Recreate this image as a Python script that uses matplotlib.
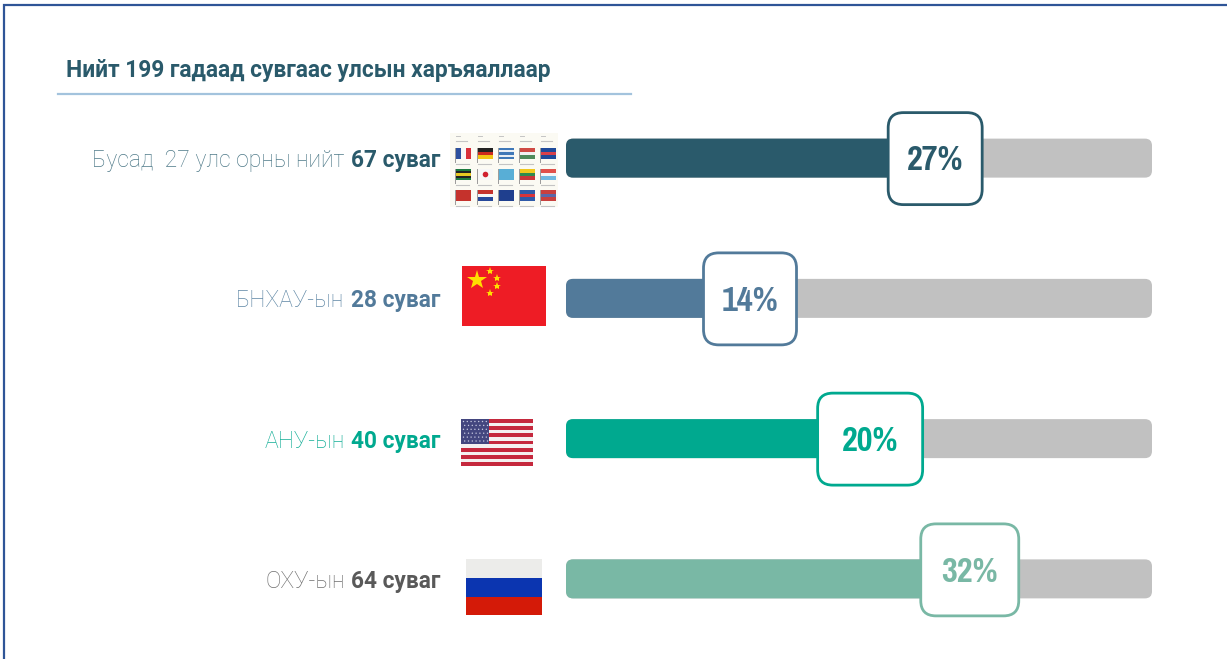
import matplotlib
matplotlib.use("Agg")
import matplotlib.pyplot as plt
from matplotlib.patches import FancyBboxPatch, Rectangle, Circle

W, H = 1227, 659

title = "Нийт 199 гадаад сувгаас улсын харъяаллаар"
light_labels = ["Бусад  27 улс орны нийт", "БНХАУ-ын", "АНУ-ын", "ОХУ-ын"]
bold_labels = ["67 суваг", "28 суваг", "40 суваг", "64 суваг"]
pct_labels = ["27%", "14%", "20%", "32%"]
# how far the coloured bar runs along the grey track, as drawn (not the same as the label)
fill_values = [63.0, 31.4, 51.9, 68.9]
track_value = 100

bar_colors = ["#2a5a6b", "#527a9a", "#00a98f", "#79b8a5"]
light_colors = ["#4f7a89", "#5f87a5", "#14ae97", "#6e6e6e"]
bold_colors = ["#2a5a6b", "#527a9a", "#00a98f", "#595959"]
box_widths = [94, 93, 105, 98]  # px
box_shift = [0.5, 0.5, 0.5, -9]  # px, last box sits higher than its bar

pct_fonts = ["Pragati Narrow", "Roboto Condensed", "Roboto"]

fig = plt.figure(figsize=(W / 100, H / 100), dpi=100, facecolor="white")

# background layer in pixels: frame, title rule and the flags
bg = fig.add_axes([0, 0, 1, 1])
bg.set_xlim(0, W)
bg.set_ylim(H, 0)
bg.axis("off")
bg.plot([4, 4, W], [H, 4.5, 4.5], color="#2f5597", lw=1.6, solid_joinstyle="miter")
bg.plot([58, 631], [94, 94], color="#a3c3dd", lw=1.6)
bg.text(66, 70, title, fontsize=16.4, fontweight="bold", family="Roboto",
        color="#2a5a6b", ha="left", va="center")


def stripes(x, y, w, h, colors, vertical=False):
    n = len(colors)
    for i, c in enumerate(colors):
        if vertical:
            bg.add_patch(Rectangle((x + i * w / n, y), w / n, h, fc=c, ec="none"))
        else:
            bg.add_patch(Rectangle((x, y + i * h / n), w, h / n, fc=c, ec="none"))


# China
stripes(462, 266, 84, 60, ["#ee1c25"])
bg.plot([477], [280], marker="*", ms=15, color="#ffde00", mew=0)
bg.plot([490, 497, 497, 490], [271, 278, 286, 293], ls="none", marker="*", ms=6, color="#ffde00", mew=0)

# USA
stripes(461, 419, 72, 47, ["#c5283d", "#f4f0f0"] * 6 + ["#c5283d"])
stripes(461, 419, 28, 25, ["#43467f"])
for r in range(6):
    for c in range(7):
        bg.add_patch(Circle((463.5 + c * 3.8 + (r % 2) * 1.2, 421.5 + r * 3.9), 0.7, fc="#c9cbe2", ec="none"))

# Russia
stripes(466, 559, 76, 18.5, ["#ececea"])
stripes(466, 577.5, 76, 19, ["#0b35b0"])
stripes(466, 596.5, 76, 18.5, ["#d41a08"])

# flag sheet for the other countries
bg.add_patch(Rectangle((450, 133), 108, 74, fc="#fbfaf3", ec="none"))
sheet = [
    [(["#2c4f9e", "#f7f7f7", "#d8303a"], True), (["#222222", "#cc2a1e", "#f2c516"], False),
     (["#3f78b8", "#e8eef5", "#3f78b8", "#e8eef5", "#3f78b8"], False), (["#cf4a44", "#f2f2f2", "#4f8a5b"], False),
     (["#1e4a9a", "#d8404a", "#1e4a9a"], False)],
    [(["#1c7a3f", "#222222", "#e6c822", "#222222", "#1c7a3f"], False), (["#f7f7f7"], False),
     (["#58aed6"], False), (["#f0c81e", "#2f8a4e", "#c8363a"], False), (["#e0504a", "#f5f5f5", "#6fb8e0"], False)],
    [(["#c5322c"], False), (["#c5322c", "#f5f5f5", "#26489a"], False), (["#1f3f8e"], False),
     (["#2f5aa8", "#d8343a", "#2f5aa8"], False), (["#c8403e", "#5a68a8", "#c8403e"], False)],
]
col_x = [456, 478, 499, 520, 541]
row_y = [148, 169, 190]
for ry, row in zip(row_y, sheet):
    for cx, (cols, vert) in zip(col_x, row):
        stripes(cx, ry, 15, 11, cols, vert)
        bg.plot([cx - 1, cx - 1], [ry, ry + 14], color="#9a9a9a", lw=0.7)
        bg.plot([cx, cx + 13], [ry + 16, ry + 16], color="#c4c4c4", lw=0.8)
bg.add_patch(Circle((col_x[1] + 7.5, row_y[1] + 5.5), 2.8, fc="#d02030", ec="none"))
for cx in col_x:
    bg.plot([cx, cx + 4], [136, 136], color="#c4c4c4", lw=0.7)
    bg.plot([cx, cx + 11], [141, 141], color="#c4c4c4", lw=0.8)

# bars, x in percent of the track, one y unit per row
ax = fig.add_axes([566 / W, 1 - 649 / H, 586 / W, 561 / H])
ax.set_xlim(0, 100)
ax.set_ylim(3.5, -0.5)
ax.axis("off")
ax.patch.set_alpha(0)

px_x = 586 / 100
px_y = 561 / 4
aspect = px_x / px_y
bar_h = 39 / px_y
box_h = 92 / px_y


def round_box(x0, y0, w, h, r, **kw):
    p = FancyBboxPatch((x0, y0), w, h, boxstyle=f"round,pad=0,rounding_size={r}",
                       mutation_aspect=aspect, clip_on=False, **kw)
    ax.add_patch(p)
    return p


renderer = fig.canvas.get_renderer()
for i, val in enumerate(fill_values):
    round_box(0, i - bar_h / 2, track_value, bar_h, 1.2, fc="#c1c1c1", ec="none", zorder=2)
    round_box(0, i - bar_h / 2, val, bar_h, 1.2, fc=bar_colors[i], ec="none", zorder=3)

    yc = i + box_shift[i] / px_y
    bw = box_widths[i] / px_x
    round_box(val - bw / 2, yc - box_h / 2, bw, box_h, 2.6, fc="white", ec=bar_colors[i], lw=2, zorder=4)
    ax.annotate(pct_labels[i], xy=(val, yc), xytext=(0, -8.5), textcoords="offset points",
                family=pct_fonts, fontsize=27, fontweight="bold", color=bar_colors[i],
                ha="center", va="baseline", zorder=5, annotation_clip=False)

    # two weights on one baseline, so the light part is placed from the bold part's width
    bold = ax.annotate(bold_labels[i], xy=(0, i), xytext=(-126 * 0.72, -6.5), textcoords="offset points",
                       family="Roboto", fontsize=16.3, fontweight="bold", color=bold_colors[i],
                       ha="right", va="baseline", annotation_clip=False)
    bw_px = bold.get_window_extent(renderer).width
    ax.annotate(light_labels[i], xy=(0, i), xytext=(-(126 + bw_px + 6) * 0.72, -6.5), textcoords="offset points",
                family="Roboto", fontsize=16.6, fontweight="light", color=light_colors[i],
                ha="right", va="baseline", annotation_clip=False)

fig.savefig("out.png", dpi=100)
